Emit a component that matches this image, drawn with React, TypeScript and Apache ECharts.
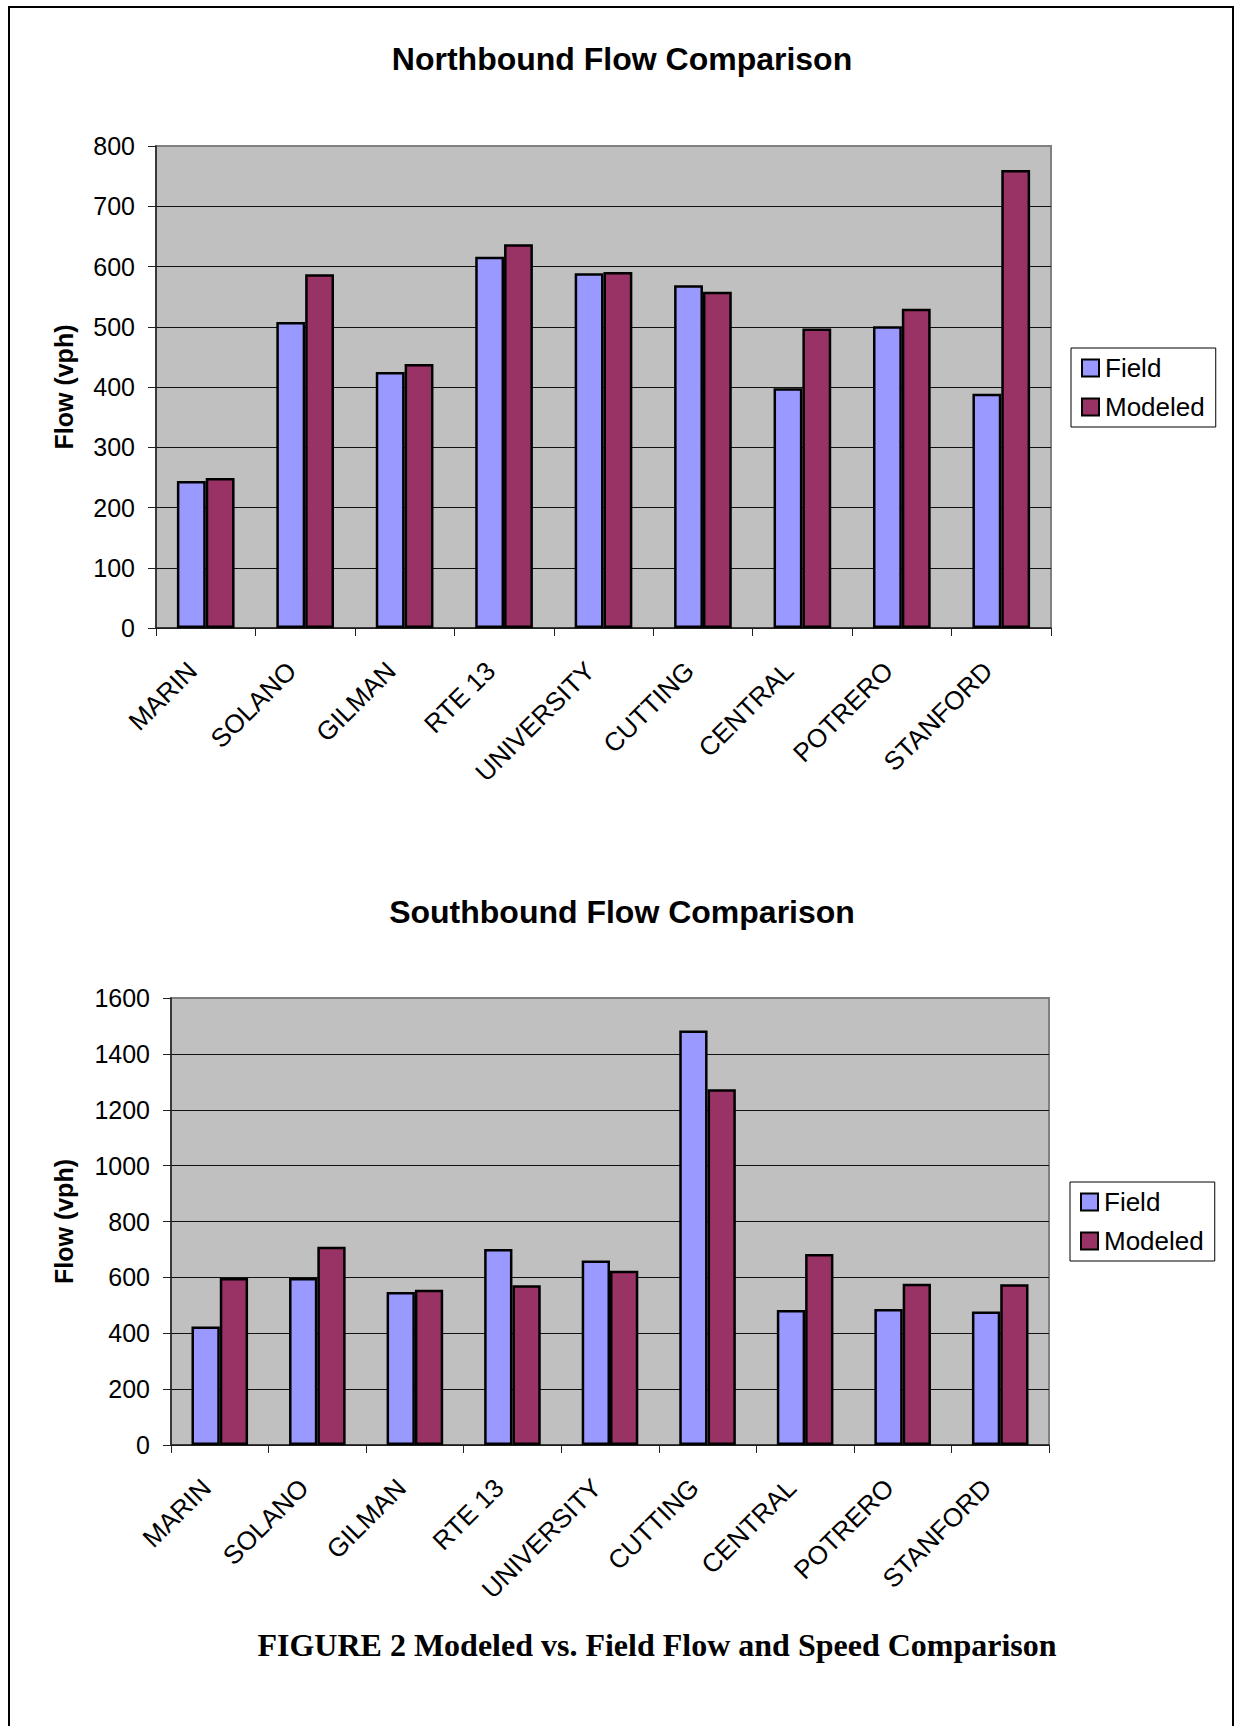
import React, { useEffect, useRef } from "react";
import * as echarts from "echarts";

const categories = ["MARIN", "SOLANO", "GILMAN", "RTE 13", "UNIVERSITY", "CUTTING", "CENTRAL", "POTRERO", "STANFORD"];
const seriesNames = ["Field", "Modeled"];

// Northbound flow (vph)
const nbField = [244, 508, 425, 616, 589, 569, 398, 501, 389];
const nbModeled = [249, 587, 438, 637, 591, 558, 497, 530, 760];
const nbAxis = { min: 0, max: 800, interval: 100 };

// Southbound flow (vph)
const sbField = [424, 598, 548, 702, 660, 1484, 483, 487, 478];
const sbModeled = [598, 710, 556, 572, 624, 1273, 684, 577, 575];
const sbAxis = { min: 0, max: 1600, interval: 200 };

const titles = ["Northbound Flow Comparison", "Southbound Flow Comparison"];
const yName = "Flow (vph)";
const caption = "FIGURE 2 Modeled vs. Field Flow and Speed Comparison";

const SANS = "'Liberation Sans', Arial, Helvetica, sans-serif";
const SERIF = "'Liberation Serif', 'Times New Roman', serif";
const FIELD_COLOR = "#9999FF";
const MODELED_COLOR = "#993366";

export default function App() {
  const ref = useRef<HTMLDivElement>(null);

  useEffect(() => {
    if (!ref.current) return;
    const chart = echarts.init(ref.current, undefined, { renderer: "svg" });

    const xAxisBase = (gridIndex: number) => ({
      type: "category",
      gridIndex,
      data: categories,
      axisLine: { show: true, lineStyle: { color: "#222", width: 1.5 } },
      axisTick: { show: true, length: 8, lineStyle: { color: "#222", width: 1 } },
      axisLabel: {
        rotate: 45,
        interval: 0,
        margin: 25,
        padding: [0, 19, 0, 0],
        fontSize: 26,
        fontFamily: SANS,
        color: "#000",
      },
      splitLine: { show: false },
    });

    const yAxisBase = (gridIndex: number, ax: { min: number; max: number; interval: number }, nameGap: number) => ({
      type: "value",
      gridIndex,
      min: ax.min,
      max: ax.max,
      interval: ax.interval,
      name: yName,
      nameLocation: "middle",
      nameGap,
      nameTextStyle: { fontSize: 25, fontWeight: "bold", fontFamily: SANS, color: "#000" },
      axisLine: { show: true, lineStyle: { color: "#222", width: 1.5 } },
      axisTick: { show: true, length: 8, lineStyle: { color: "#222", width: 1 } },
      axisLabel: {
        margin: 21,
        fontSize: 25,
        fontFamily: SANS,
        color: "#000",
        formatter: (v: number) => String(v),
      },
      splitLine: { show: true, showMaxLine: false, lineStyle: { color: "#111", width: 1 } },
    });

    const barSeries = (name: string, data: number[], color: string, idx: number) => ({
      type: "bar",
      name,
      data,
      xAxisIndex: idx,
      yAxisIndex: idx,
      barGap: "0%",
      barCategoryGap: "42%",
      itemStyle: { color, borderColor: "#000", borderWidth: 2.5 },
      emphasis: { disabled: true },
    });

    const legendBase = (top: number, left: number) => ({
      data: seriesNames,
      orient: "vertical",
      left,
      top,
      icon: "rect",
      itemWidth: 17,
      itemHeight: 17,
      itemGap: 13,
      padding: [7, 11, 7, 10],
      backgroundColor: "#fff",
      borderColor: "#000",
      borderWidth: 1,
      borderRadius: 0,
      itemStyle: { borderColor: "#000", borderWidth: 2 },
      textStyle: { fontSize: 26, fontFamily: SANS, color: "#000", padding: [0, 0, 0, 1] },
      selectedMode: false,
    });

    const textEl = (text: string, x: number, y: number, fontSize: number, family: string) => ({
      type: "text",
      x,
      y,
      silent: true,
      style: {
        text,
        fontSize,
        fontWeight: "bold",
        fontFamily: family,
        fill: "#000",
        align: "center",
        verticalAlign: "middle",
        textAlign: "center",
        textVerticalAlign: "middle",
      },
    });

    chart.setOption({
      animation: false,
      backgroundColor: "#ffffff",
      grid: [
        {
          left: 156,
          top: 146,
          width: 895,
          height: 482,
          show: true,
          backgroundColor: "#C0C0C0",
          borderColor: "#808080",
          borderWidth: 2,
        },
        {
          left: 171,
          top: 998,
          width: 878,
          height: 447,
          show: true,
          backgroundColor: "#C0C0C0",
          borderColor: "#808080",
          borderWidth: 2,
        },
      ],
      xAxis: [xAxisBase(0), xAxisBase(1)],
      yAxis: [yAxisBase(0, nbAxis, 80), yAxisBase(1, sbAxis, 95)],
      legend: [legendBase(348, 1071), legendBase(1182, 1070)],
      series: [
        barSeries(seriesNames[0], nbField, FIELD_COLOR, 0),
        barSeries(seriesNames[1], nbModeled, MODELED_COLOR, 0),
        barSeries(seriesNames[0], sbField, FIELD_COLOR, 1),
        barSeries(seriesNames[1], sbModeled, MODELED_COLOR, 1),
      ],
      graphic: [
        {
          type: "rect",
          silent: true,
          z: 100,
          shape: { x: 9, y: 7, width: 1224, height: 1780 },
          style: { fill: "none", stroke: "#000", lineWidth: 2 },
        },
        textEl(titles[0], 622, 59, 32, SANS),
        textEl(titles[1], 622, 912, 32, SANS),
        textEl(caption, 657, 1645, 32, SERIF),
      ],
    });

    return () => chart.dispose();
  }, []);

  return (
    <div
      ref={ref}
      style={{ position: "absolute", left: 0, top: 0, width: 1235, height: 1726, background: "#fff" }}
    />
  );
}
